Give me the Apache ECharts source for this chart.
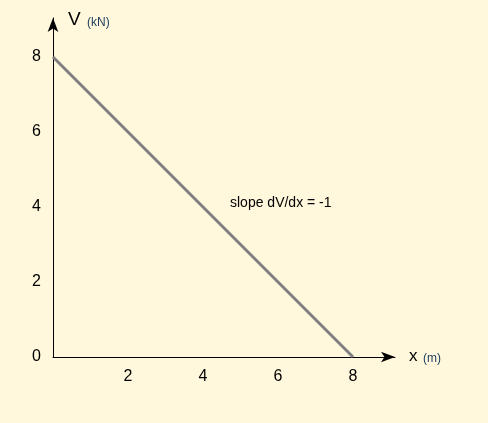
<!DOCTYPE html>
<html lang="en">
<head>
	<meta charset="UTF-8">
	<title>Shear diagram</title>
	<script src="https://cdn.jsdelivr.net/npm/echarts@6/dist/echarts.min.js"></script>
</head>
<style>
	html, body { margin: 0; padding: 0; background: #fff8dc; }
	#main { width: 488px; height: 423px; }
</style>
<body>
	<div id="main"></div>
	<script>
		var xValues = [0, 8];
		var shearValues = [8, 0];
		var tickLabels = [0, 2, 4, 6, 8];

		var myChart = echarts.init(document.getElementById('main'));
		var font = 'Liberation Sans, Arial, sans-serif';
		var option = {
			backgroundColor: '#fff8dc',
			animation: false,
			grid: { left: 53, right: 93, top: 18, bottom: 66 },
			xAxis: {
				type: 'value', min: 0, max: 9.12, interval: 2,
				axisLine: { lineStyle: { color: '#000', width: 1 }, symbol: ['none', 'arrow'], symbolSize: [8, 14] },
				axisTick: { show: false },
				splitLine: { show: false },
				axisLabel: {
					margin: 12, color: '#000', fontSize: 16, fontFamily: font,
					formatter: function (v) { return (v > 0 && tickLabels.indexOf(v) >= 0) ? String(v) : ''; }
				}
			},
			yAxis: {
				type: 'value', min: 0, max: 9.04, interval: 2,
				axisLine: { show: true, lineStyle: { color: '#000', width: 1 }, symbol: ['none', 'arrow'], symbolSize: [8, 14] },
				axisTick: { show: false },
				splitLine: { show: false },
				axisLabel: {
					margin: 12, color: '#000', fontSize: 16, fontFamily: font,
					formatter: function (v) { return tickLabels.indexOf(v) >= 0 ? String(v) : ''; }
				}
			},
			graphic: [
				{ type: 'text', left: 68, top: 10, style: { text: 'V', fontSize: 19, fontFamily: font, fill: '#000' } },
				{ type: 'text', left: 87, top: 17, style: { text: '(kN)', fontSize: 12, fontFamily: font, fill: '#1a3a5a' } },
				{ type: 'text', left: 409, top: 348, style: { text: 'x', fontSize: 17, fontFamily: font, fill: '#000' } },
				{ type: 'text', left: 423, top: 353, style: { text: '(m)', fontSize: 12, fontFamily: font, fill: '#1a3a5a' } },
				{ type: 'text', left: 230, top: 196, style: { text: 'slope dV/dx = -1', fontSize: 14, fontFamily: font, fill: '#000' } }
			],
			series: [{
				type: 'line',
				data: xValues.map(function (x, i) { return [x, shearValues[i]]; }),
				symbol: 'none',
				lineStyle: { color: '#808080', width: 3 }
			}]
		};
		myChart.setOption(option);
	</script>
</body>
</html>
